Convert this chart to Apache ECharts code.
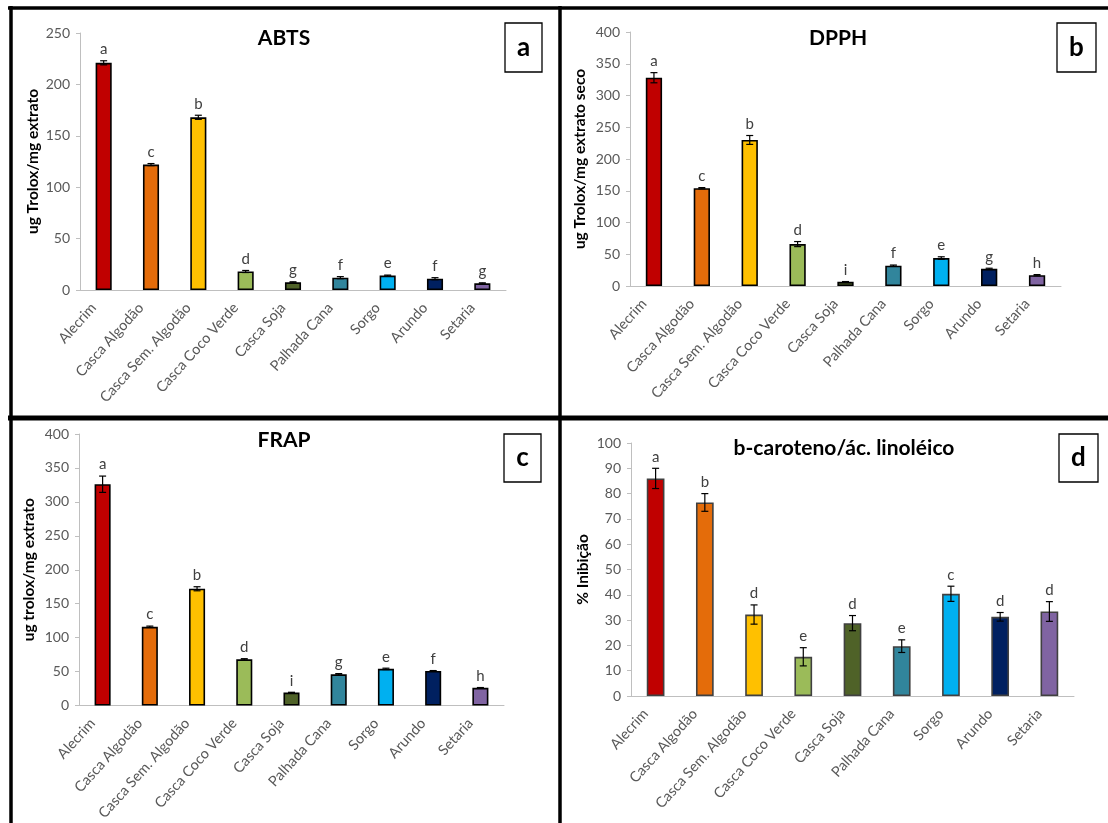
<!DOCTYPE html>
<html>
<head>
<meta charset="utf-8">
<script src="https://cdn.jsdelivr.net/npm/echarts@6/dist/echarts.min.js"></script>
<style>html,body{margin:0;padding:0;background:#fff;}#c{width:1108px;height:823px;}</style>
</head>
<body>
<div id="c"></div>
<script>
const categories = ['Alecrim','Casca Algodão','Casca Sem. Algodão','Casca Coco Verde','Casca Soja','Palhada Cana','Sorgo','Arundo','Setaria'];
const barColors = ['#C00000','#E46C0A','#FFC000','#9BBB59','#4F6228','#31859C','#00B0F0','#002060','#8064A2'];

const abtsValues = [221, 122, 168, 18, 7.5, 12, 14, 11, 6.5];
const abtsErrors = [2, 1, 2, 1, 0.5, 1, 0.5, 1, 0.5];
const abtsLetters = ['a','c','b','d','g','f','e','f','g'];

const dpphValues = [328, 154, 230, 66, 6.5, 32, 44, 27, 17];
const dpphErrors = [8, 1, 7, 4, 0.5, 1, 2, 1, 1];
const dpphLetters = ['a','c','b','d','i','f','e','g','h'];

const frapValues = [326, 116, 172, 68, 19, 46, 54, 51, 26];
const frapErrors = [12, 1, 3, 1, 0.5, 1, 1, 0.5, 0.5];
const frapLetters = ['a','c','b','d','i','g','e','f','h'];

const betaValues = [86, 76.5, 32.2, 15.5, 28.8, 19.7, 40.4, 31.3, 33.4];
const betaErrors = [4, 3.5, 3.8, 3.6, 3, 2.5, 3, 1.7, 3.9];
const betaLetters = ['a','b','d','e','d','e','c','d','d'];

const yTicks = { abts: [0, 250, 50], dpph: [0, 400, 50], frap: [0, 400, 50], beta: [0, 100, 10] };

const FONT = 'Lato';
const panels = [
  { values: abtsValues, errors: abtsErrors, letters: abtsLetters, ticks: yTicks.abts, name: 'ug Trolox/mg extrato',
    grid: { left: 80, top: 33, width: 426, height: 257 }, barWidth: '34%', border: '#000', gap: 39 },
  { values: dpphValues, errors: dpphErrors, letters: dpphLetters, ticks: yTicks.dpph, name: 'ug Trolox/mg extrato seco',
    grid: { left: 630, top: 32, width: 431, height: 254 }, barWidth: '34%', border: '#000', gap: 42 },
  { values: frapValues, errors: frapErrors, letters: frapLetters, ticks: yTicks.frap, name: 'ug trolox/mg extrato',
    grid: { left: 79, top: 434, width: 425, height: 272 }, barWidth: '34%', border: '#000', gap: 42 },
  { values: betaValues, errors: betaErrors, letters: betaLetters, ticks: yTicks.beta, name: '% Inibição',
    grid: { left: 631, top: 443, width: 443, height: 253 }, barWidth: '36%', border: '#404040', gap: 40 }
];

const grids = [], xAxes = [], yAxes = [], series = [];
panels.forEach((p, k) => {
  grids.push(Object.assign({ containLabel: false }, p.grid));
  xAxes.push({
    type: 'category', gridIndex: k, data: categories,
    axisLine: { lineStyle: { color: '#BFBFBF', width: 1 } },
    axisTick: { show: false },
    axisLabel: { rotate: 48, interval: 0, color: '#595959', fontSize: 14.5, fontFamily: FONT, margin: 4, padding: [0, 15, 0, 0] }
  });
  yAxes.push({
    type: 'value', gridIndex: k, min: p.ticks[0], max: p.ticks[1], interval: p.ticks[2],
    name: p.name, nameLocation: 'middle', nameGap: p.gap,
    nameTextStyle: { color: '#000', fontWeight: 'bold', fontSize: 15.5, fontFamily: FONT },
    axisLine: { show: true, lineStyle: { color: '#BFBFBF', width: 1 } },
    axisTick: { show: true, length: 4, lineStyle: { color: '#BFBFBF' } },
    axisLabel: { color: '#595959', fontSize: 14, fontFamily: FONT, margin: 10 },
    splitLine: { show: false }
  });
  series.push({
    type: 'bar', xAxisIndex: k, yAxisIndex: k, barWidth: p.barWidth,
    data: p.values,
    itemStyle: { color: (params) => barColors[params.dataIndex], borderColor: p.border, borderWidth: 1.6 },
    z: 2
  });
  series.push({
    type: 'custom', xAxisIndex: k, yAxisIndex: k, z: 3,
    data: p.values.map((v, i) => [i, v, p.errors[i]]),
    encode: { x: 0, y: 1 },
    renderItem: (params, api) => {
      const i = api.value(0), v = api.value(1), e = api.value(2);
      const top = api.coord([i, v + e]);
      const bot = api.coord([i, v - e]);
      const hw = 3.5;
      const st = { stroke: '#000', lineWidth: 1.2 };
      return {
        type: 'group',
        children: [
          { type: 'line', shape: { x1: top[0], y1: top[1], x2: bot[0], y2: bot[1] }, style: st },
          { type: 'line', shape: { x1: top[0] - hw, y1: top[1], x2: top[0] + hw, y2: top[1] }, style: st },
          { type: 'line', shape: { x1: bot[0] - hw, y1: bot[1], x2: bot[0] + hw, y2: bot[1] }, style: st },
          { type: 'text', style: { text: p.letters[params.dataIndex], x: top[0], y: top[1] - 4,
              textAlign: 'center', textVerticalAlign: 'bottom', align: 'center', verticalAlign: 'bottom',
              fill: '#404040', fontSize: 15, fontFamily: FONT } }
        ]
      };
    }
  });
});

function frameLine(x1, y1, x2, y2, w) {
  return { type: 'line', shape: { x1, y1, x2, y2 }, style: { stroke: '#000', lineWidth: w }, z: 100 };
}
function titleText(text, x, y) {
  return { type: 'text', x: x, y: y, style: { text, font: 'bold 21px Lato', fill: '#000',
    textAlign: 'center', textVerticalAlign: 'middle', align: 'center', verticalAlign: 'middle' }, z: 100 };
}
function letterBox(text, x, y, w, h) {
  return [
    { type: 'rect', shape: { x, y, width: w, height: h }, style: { fill: '#fff', stroke: '#000', lineWidth: 1.3 }, z: 100 },
    { type: 'text', x: x + w / 2, y: y + h / 2, style: { text, font: 'bold 26px Lato', fill: '#000',
      textAlign: 'center', textVerticalAlign: 'middle', align: 'center', verticalAlign: 'middle' }, z: 101 }
  ];
}

const graphics = [
  frameLine(8, 8, 1108, 8, 3.5),
  frameLine(11, 6, 11, 823, 3.5),
  frameLine(560, 6, 560, 823, 3.5),
  frameLine(8, 418, 1108, 418, 5),
  titleText('ABTS', 284, 38),
  titleText('DPPH', 838, 38),
  titleText('FRAP', 284, 440),
  titleText('b-caroteno/ác. linoléico', 844, 448),
  ...letterBox('a', 505, 23, 37, 49),
  ...letterBox('b', 1057, 23, 39, 49),
  ...letterBox('c', 504, 434, 37, 48),
  ...letterBox('d', 1059, 434, 39, 48)
];

const chart = echarts.init(document.getElementById('c'), null, { renderer: 'canvas' });
chart.setOption({
  animation: false,
  backgroundColor: '#fff',
  textStyle: { fontFamily: FONT },
  grid: grids, xAxis: xAxes, yAxis: yAxes, series: series,
  graphic: graphics
});
</script>
</body>
</html>
